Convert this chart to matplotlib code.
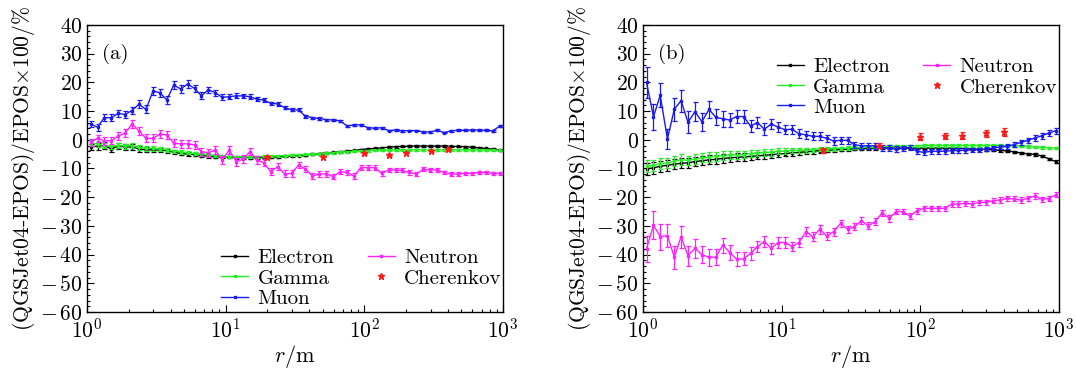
import numpy as np
import matplotlib
matplotlib.use('Agg')
import matplotlib.pyplot as plt
from matplotlib.ticker import MultipleLocator, LogLocator, FixedLocator, FixedFormatter, NullFormatter

plt.rcParams['font.family'] = 'serif'
plt.rcParams['font.serif'] = ['cmr10']
plt.rcParams['mathtext.fontset'] = 'cm'
plt.rcParams['axes.formatter.use_mathtext'] = True

# bin centres of one decade (20 bins per decade)
decade = [1.06, 1.19, 1.33, 1.50, 1.68, 1.88, 2.11, 2.37, 2.66, 2.99,
          3.35, 3.76, 4.22, 4.73, 5.31, 5.96, 6.68, 7.50, 8.41, 9.44]
r = np.array(decade + [10 * v for v in decade] + [100 * v for v in decade])
r_cher = [20, 50, 100, 150, 200, 300, 400]

# ---- panel (a)
a_electron = [-2.5, -2.2, -2.0, -3.2, -2.2, -2.5, -2.5, -3.2, -3.5, -3.5,
              -3.6, -3.8, -4.3, -4.8, -5.0, -5.2, -5.5, -5.8, -6.0, -6.0,
              -6.0, -6.2, -6.2, -6.2, -6.3, -6.2, -6.0, -6.0, -5.8, -5.6,
              -5.5, -5.3, -5.0, -4.8, -4.6, -4.4, -4.2, -4.0, -3.7, -3.4,
              -3.2, -3.0, -2.8, -2.6, -2.4, -2.3, -2.2, -2.2, -2.2, -2.2,
              -2.2, -2.2, -2.3, -2.3, -2.4, -2.6, -2.8, -3.0, -3.3, -3.6]
a_electron_err = [1.2, 1.2, 1.2, 1.2, 1.0, 1.0, 1.0, 0.9, 0.9, 0.8,
                  0.8, 0.7, 0.7, 0.6, 0.6, 0.6, 0.5, 0.5, 0.5, 0.5,
                  0.4, 0.4, 0.4, 0.4, 0.4, 0.4, 0.3, 0.3, 0.3, 0.3,
                  0.3, 0.3, 0.3, 0.3, 0.3, 0.3, 0.3, 0.3, 0.3, 0.3,
                  0.3, 0.3, 0.3, 0.3, 0.3, 0.3, 0.3, 0.3, 0.3, 0.3,
                  0.3, 0.3, 0.3, 0.3, 0.3, 0.3, 0.3, 0.3, 0.3, 0.3]
a_gamma = [-1.0, -1.5, -2.0, -2.3, -2.0, -2.2, -2.0, -2.6, -3.0, -3.0,
           -3.2, -3.5, -4.0, -4.2, -4.5, -4.8, -5.0, -5.2, -5.5, -5.7,
           -5.9, -6.0, -6.0, -6.0, -5.9, -5.8, -5.7, -5.6, -5.5, -5.4,
           -5.3, -5.1, -5.0, -4.9, -4.7, -4.5, -4.3, -4.2, -4.0, -3.9,
           -3.8, -3.7, -3.6, -3.6, -3.5, -3.5, -3.5, -3.5, -3.5, -3.5,
           -3.5, -3.5, -3.5, -3.5, -3.5, -3.5, -3.5, -3.6, -3.6, -3.7]
a_gamma_err = [1.0, 1.0, 1.0, 1.0, 0.9, 0.9, 0.9, 0.8, 0.8, 0.8,
               0.7, 0.7, 0.6, 0.6, 0.6, 0.5, 0.5, 0.5, 0.4, 0.4,
               0.4, 0.4, 0.4, 0.3, 0.3, 0.3, 0.3, 0.3, 0.3, 0.3,
               0.3, 0.3, 0.3, 0.3, 0.3, 0.3, 0.3, 0.3, 0.3, 0.3,
               0.3, 0.3, 0.3, 0.3, 0.3, 0.3, 0.3, 0.3, 0.3, 0.3,
               0.3, 0.3, 0.3, 0.3, 0.3, 0.3, 0.3, 0.3, 0.3, 0.3]
a_muon = [5.5, 4.4, 7.7, 7.7, 9.2, 8.8, 10.2, 12.4, 10.6, 17.0,
          16.4, 13.9, 19.1, 17.7, 19.4, 17.9, 15.3, 17.4, 16.4, 14.8,
          15.0, 15.3, 15.3, 15.0, 14.1, 13.9, 12.7, 12.5, 11.2, 10.4,
          10.4, 8.2, 7.7, 7.4, 7.0, 6.9, 6.6, 4.8, 5.2, 5.2,
          4.2, 4.0, 4.2, 3.2, 3.4, 3.1, 3.2, 3.2, 2.7, 2.7,
          3.3, 2.5, 3.1, 3.3, 3.3, 3.4, 3.4, 3.3, 3.1, 4.7]
a_muon_err = [1.2, 1.2, 1.2, 1.2, 1.3, 1.3, 1.3, 1.4, 1.4, 1.5,
              1.4, 1.4, 1.4, 1.3, 1.3, 1.2, 1.2, 1.1, 1.0, 1.0,
              0.9, 0.9, 0.8, 0.8, 0.7, 0.7, 0.6, 0.6, 0.6, 0.5,
              0.5, 0.5, 0.4, 0.4, 0.4, 0.4, 0.3, 0.3, 0.3, 0.3,
              0.3, 0.3, 0.3, 0.3, 0.3, 0.3, 0.3, 0.3, 0.3, 0.3,
              0.3, 0.3, 0.3, 0.3, 0.3, 0.3, 0.3, 0.3, 0.3, 0.3]
a_neutron = [-0.9, 0.5, -0.4, -0.3, 1.3, 2.3, 5.5, 3.1, 0.5, 0.5,
             2.0, 1.7, -1.2, -1.4, -1.4, -1.8, -4.1, -4.5, -3.6, -7.0,
             -3.6, -7.6, -6.8, -4.1, -7.0, -8.0, -11.1, -9.4, -11.9, -11.7,
             -8.8, -10.2, -12.6, -11.9, -11.9, -12.8, -11.1, -11.4, -12.6, -9.7,
             -9.7, -9.7, -11.7, -10.5, -10.5, -10.7, -11.4, -11.9, -10.3, -10.5,
             -10.5, -11.4, -11.9, -12.0, -11.7, -11.7, -11.4, -11.4, -11.7, -11.7]
a_neutron_err = [1.3, 1.3, 1.3, 1.3, 1.3, 1.4, 1.5, 1.4, 1.4, 1.4,
                 1.4, 1.4, 1.4, 1.4, 1.4, 1.4, 1.4, 1.4, 1.4, 1.4,
                 1.4, 1.4, 1.4, 1.3, 1.3, 1.3, 1.3, 1.2, 1.2, 1.2,
                 1.2, 1.1, 1.1, 1.0, 1.0, 1.0, 0.9, 0.9, 0.9, 0.9,
                 0.8, 0.8, 0.8, 0.8, 0.8, 0.7, 0.7, 0.7, 0.7, 0.7,
                 0.6, 0.6, 0.6, 0.6, 0.6, 0.6, 0.6, 0.6, 0.6, 0.6]
a_cher = [-5.9, -5.9, -4.7, -5.3, -4.5, -3.9, -3.3]
a_cher_err = [0.2, 0.2, 0.2, 0.2, 0.2, 0.2, 0.2]

# ---- panel (b)
b_electron = [-10.1, -9.8, -9.2, -8.9, -8.5, -8.2, -8.0, -7.6, -7.3, -7.0,
              -6.8, -6.5, -6.3, -6.1, -6.0, -5.8, -5.6, -5.4, -5.2, -5.0,
              -4.8, -4.6, -4.4, -4.2, -4.0, -3.8, -3.7, -3.5, -3.4, -3.3,
              -3.2, -3.1, -3.0, -3.0, -2.9, -2.9, -2.9, -2.9, -2.9, -2.9,
              -2.9, -2.9, -2.9, -2.9, -2.9, -3.0, -3.1, -3.2, -3.3, -3.4,
              -3.5, -3.7, -3.9, -4.2, -4.6, -4.9, -5.1, -5.6, -6.6, -7.6]
b_electron_err = [2.0, 2.0, 1.9, 1.9, 1.8, 1.8, 1.7, 1.7, 1.6, 1.6,
                  1.5, 1.5, 1.4, 1.4, 1.3, 1.3, 1.2, 1.2, 1.1, 1.1,
                  1.0, 1.0, 0.9, 0.9, 0.8, 0.8, 0.7, 0.7, 0.6, 0.6,
                  0.5, 0.5, 0.5, 0.5, 0.4, 0.4, 0.4, 0.4, 0.4, 0.4,
                  0.4, 0.4, 0.4, 0.4, 0.4, 0.4, 0.4, 0.4, 0.4, 0.4,
                  0.4, 0.4, 0.4, 0.4, 0.4, 0.4, 0.4, 0.4, 0.4, 0.4]
b_gamma = [-9.2, -8.9, -8.3, -8.1, -7.5, -6.9, -7.2, -6.7, -6.3, -6.0,
           -5.8, -5.5, -5.3, -5.2, -5.2, -4.8, -4.6, -4.4, -4.4, -4.0,
           -3.9, -3.7, -3.7, -3.6, -3.5, -3.2, -3.2, -3.1, -3.0, -2.9,
           -2.8, -2.7, -2.6, -2.5, -2.4, -2.3, -2.3, -2.2, -2.2, -2.1,
           -2.0, -2.0, -2.0, -2.0, -2.0, -2.0, -2.0, -2.0, -2.0, -2.0,
           -2.0, -2.0, -2.1, -2.1, -2.2, -2.3, -2.5, -2.7, -2.8, -2.8]
b_gamma_err = [2.0, 2.0, 1.9, 1.9, 1.8, 1.8, 1.7, 1.7, 1.6, 1.6,
               1.5, 1.5, 1.4, 1.4, 1.3, 1.3, 1.2, 1.2, 1.1, 1.1,
               1.0, 1.0, 0.9, 0.9, 0.8, 0.8, 0.7, 0.7, 0.6, 0.6,
               0.5, 0.5, 0.5, 0.5, 0.4, 0.4, 0.4, 0.4, 0.4, 0.4,
               0.4, 0.4, 0.4, 0.4, 0.4, 0.4, 0.4, 0.4, 0.4, 0.4,
               0.4, 0.4, 0.4, 0.4, 0.4, 0.4, 0.4, 0.4, 0.4, 0.4]
b_muon = [20.0, 8.0, 15.5, 0.3, 10.6, 13.6, 6.1, 9.8, 6.3, 10.6,
          7.8, 7.3, 6.9, 8.1, 8.1, 4.8, 6.0, 3.7, 5.5, 4.4,
          3.5, 3.7, 2.1, 1.7, 1.2, 1.2, 0.5, -0.4, -0.2, -0.2,
          -1.7, -2.1, -2.1, -2.1, -2.9, -2.9, -3.2, -2.9, -2.7, -4.0,
          -4.4, -4.0, -4.0, -4.0, -3.8, -3.7, -3.7, -3.5, -3.5, -3.2,
          -2.9, -2.5, -2.3, -1.7, -0.9, -0.2, 0.6, 1.4, 2.3, 3.1]
b_muon_err = [5.5, 4.5, 4.2, 3.5, 4.0, 3.8, 3.8, 3.2, 3.2, 3.0,
              2.8, 2.8, 2.5, 2.3, 2.3, 2.0, 2.0, 2.0, 1.8, 1.8,
              1.6, 1.6, 1.5, 1.5, 1.4, 1.4, 1.3, 1.3, 1.2, 1.2,
              1.1, 1.1, 1.1, 1.0, 1.0, 1.0, 1.0, 0.9, 0.9, 0.9,
              0.9, 0.9, 0.9, 0.8, 0.8, 0.8, 0.8, 0.8, 0.8, 0.8,
              0.8, 0.8, 0.8, 0.8, 0.8, 0.9, 0.9, 1.0, 1.0, 1.1]
b_neutron = [-38.0, -29.7, -33.8, -33.4, -40.9, -33.8, -40.4, -37.8, -40.1, -40.9,
             -40.9, -36.7, -39.3, -41.6, -41.5, -39.6, -37.2, -35.5, -37.8, -35.8,
             -35.8, -37.2, -35.8, -32.0, -33.8, -31.2, -33.6, -32.0, -29.1, -31.2,
             -30.3, -28.2, -30.0, -28.5, -25.4, -27.4, -25.0, -25.0, -26.6, -24.7,
             -23.9, -23.9, -23.9, -23.9, -22.4, -22.4, -22.1, -22.4, -21.8, -21.8,
             -21.2, -21.0, -20.4, -20.6, -21.0, -20.4, -19.6, -20.7, -20.5, -19.2]
b_neutron_err = [4.5, 4.8, 4.5, 4.0, 4.0, 3.8, 3.5, 3.3, 3.0, 3.0,
                 2.8, 2.6, 2.5, 2.4, 2.3, 2.2, 2.0, 2.0, 1.9, 1.8,
                 1.8, 1.7, 1.6, 1.6, 1.5, 1.5, 1.4, 1.4, 1.3, 1.3,
                 1.2, 1.2, 1.2, 1.1, 1.1, 1.1, 1.0, 1.0, 1.0, 1.0,
                 0.9, 0.9, 0.9, 0.9, 0.9, 0.9, 0.9, 0.9, 0.9, 0.9,
                 0.9, 0.9, 0.9, 0.9, 0.9, 0.9, 0.9, 0.9, 0.9, 0.9]
b_cher = [-3.7, -2.0, 1.0, 1.3, 1.4, 2.2, 2.6]
b_cher_err = [0.8, 0.8, 1.2, 1.2, 1.2, 1.3, 1.4]

yticks = [-60, -50, -40, -30, -20, -10, 0, 10, 20, 30, 40]
ytick_labels = [r'$-\,60$', r'$-\,50$', r'$-\,40$', r'$-\,30$', r'$-\,20$', r'$-\,10$',
                r'$0$', r'$10$', r'$20$', r'$30$', r'$40$']

c_e, c_g, c_mu, c_n, c_ch = 'black', '#22ee22', '#1a1aee', '#ff22ff', '#ff1a1a'


def draw_panel(ax, tag, e, ee, g, ge, mu, mue, n, ne, ch, che, leg_anchor):
    handles = []
    for y, err, col, lab in [(e, ee, c_e, 'Electron'), (g, ge, c_g, 'Gamma'),
                             (mu, mue, c_mu, 'Muon'), (n, ne, c_n, 'Neutron')]:
        ax.errorbar(r, y, yerr=err, fmt='none', ecolor=col, elinewidth=0.9,
                    capsize=1.8, capthick=0.9)
        h, = ax.plot(r, y, color=col, lw=1.0, marker='s', ms=2.0, label=lab)
        handles.append(h)
    ax.errorbar(r_cher, ch, yerr=che, fmt='none', ecolor=c_ch, elinewidth=0.9,
                capsize=1.8, capthick=0.9)
    h, = ax.plot(r_cher, ch, ls='none', color=c_ch, marker='*', ms=4.5, label='Cherenkov')
    handles.append(h)

    ax.set_xscale('log')
    ax.set_xlim(1, 1000)
    ax.set_ylim(-60, 40)
    ax.yaxis.set_major_locator(FixedLocator(yticks))
    ax.yaxis.set_major_formatter(FixedFormatter(ytick_labels))
    ax.yaxis.set_minor_locator(MultipleLocator(2))
    ax.xaxis.set_major_locator(LogLocator(base=10))
    ax.xaxis.set_minor_locator(LogLocator(base=10, subs=np.arange(2, 10)))
    ax.xaxis.set_minor_formatter(NullFormatter())
    ax.tick_params(which='both', direction='in', top=False, right=False, labelsize=15.5)
    ax.tick_params(which='major', length=5, width=0.8)
    ax.tick_params(which='minor', length=2.5, width=0.8)
    ax.tick_params(axis='x', pad=4)
    ax.tick_params(axis='y', pad=3)
    for s in ax.spines.values():
        s.set_linewidth(1.0)
    ax.set_xlabel(r'$r/\mathrm{m}$', fontsize=16, labelpad=1)
    ax.set_ylabel(r'(QGSJet04-EPOS)/EPOS$\times$100/%', fontsize=15.5, labelpad=2)
    ax.text(0.035, 0.935, tag, transform=ax.transAxes, fontsize=15, va='top', ha='left')

    ax.legend(handles=handles, loc='upper left', bbox_to_anchor=leg_anchor, ncol=2,
              frameon=False, fontsize=15, handlelength=1.3, handletextpad=0.45,
              labelspacing=0.08, columnspacing=1.6, borderpad=0, borderaxespad=0)


fig = plt.figure(figsize=(10.76, 3.70), dpi=100)
ax1 = fig.add_axes([0.0809, 0.1568, 0.3866, 0.7757])
ax2 = fig.add_axes([0.5976, 0.1568, 0.3866, 0.7757])

draw_panel(ax1, '(a)', a_electron, a_electron_err, a_gamma, a_gamma_err,
           a_muon, a_muon_err, a_neutron, a_neutron_err, a_cher, a_cher_err,
           (0.322, 0.22))
draw_panel(ax2, '(b)', b_electron, b_electron_err, b_gamma, b_gamma_err,
           b_muon, b_muon_err, b_neutron, b_neutron_err, b_cher, b_cher_err,
           (0.321, 0.886))

fig.savefig('out.png', dpi=100)
